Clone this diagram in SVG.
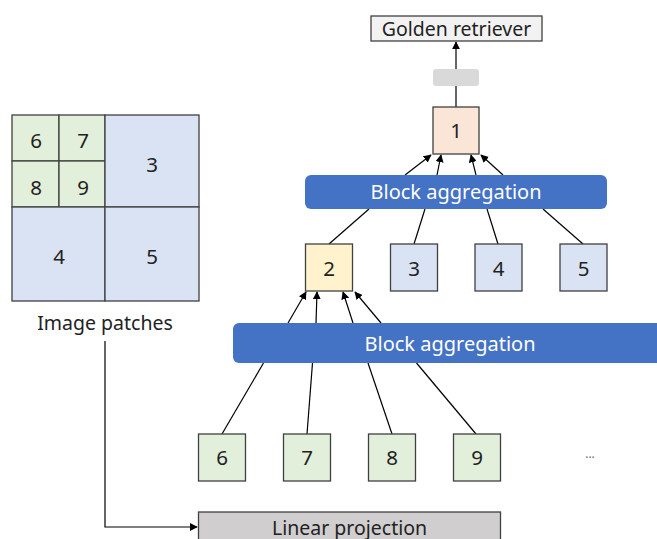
<svg xmlns="http://www.w3.org/2000/svg" width="657" height="539" viewBox="0 0 657 539">
  <defs>
    <marker id="arr" viewBox="0 0 10 10" refX="9" refY="5" markerWidth="8" markerHeight="8" markerUnits="userSpaceOnUse" orient="auto">
      <path d="M0,0 L10,5 L0,10 z" fill="#000"/>
    </marker>
    <style>
      .t { font-family: "Noto Sans", "Liberation Sans", sans-serif; fill: #222; text-anchor: middle; }
      .num { font-size: 20.5px; }
      .lab { font-size: 19.5px; }
      .blk { font-size: 20px; fill: #fff; }
      .box { stroke: #404040; stroke-width: 1.3; }
      .green { fill: #e2efda; }
      .blue { fill: #dae3f3; }
      .peach { fill: #fbe5d6; }
      .yellow { fill: #fff2cc; }
      .agg { fill: #4472c4; }
      .ln { stroke: #000; stroke-width: 1.2; fill: none; }
      .cell { stroke: #404040; stroke-width: 1.3; }
    </style>
  </defs>
  <rect width="657" height="539" fill="#fff"/>

  <!-- patch grid -->
  <g id="patches">
    <rect class="cell green" x="12" y="115" width="47" height="46"/>
    <rect class="cell green" x="59" y="115" width="46" height="46"/>
    <rect class="cell green" x="12" y="161" width="47" height="46"/>
    <rect class="cell green" x="59" y="161" width="46" height="46"/>
    <rect class="cell blue" x="105" y="115" width="94" height="92"/>
    <rect class="cell blue" x="12" y="207" width="93" height="94"/>
    <rect class="cell blue" x="105" y="207" width="94" height="94"/>
    <text class="t num" x="36" y="148">6</text>
    <text class="t num" x="83" y="148">7</text>
    <text class="t num" x="36" y="195">8</text>
    <text class="t num" x="83" y="195">9</text>
    <text class="t num" x="152" y="172">3</text>
    <text class="t num" x="59" y="264">4</text>
    <text class="t num" x="152" y="264">5</text>
    <text class="t lab" x="105" y="330">Image patches</text>
  </g>

  <!-- connectors -->
  <g id="connectors">
    <polyline class="ln" points="105,341 105,527 197,527" marker-end="url(#arr)"/>
    <line class="ln" x1="456" y1="107" x2="456" y2="42" marker-end="url(#arr)"/>
    <line class="ln" x1="405" y1="175" x2="431" y2="155" marker-end="url(#arr)"/>
    <line class="ln" x1="437" y1="175" x2="441" y2="155" marker-end="url(#arr)"/>
    <line class="ln" x1="476" y1="175" x2="471" y2="155" marker-end="url(#arr)"/>
    <line class="ln" x1="503" y1="175" x2="481" y2="155" marker-end="url(#arr)"/>
    <line class="ln" x1="369" y1="209" x2="329" y2="244"/>
    <line class="ln" x1="425" y1="209" x2="414" y2="244"/>
    <line class="ln" x1="487" y1="209" x2="498" y2="244"/>
    <line class="ln" x1="543" y1="209" x2="583" y2="244"/>
    <line class="ln" x1="288" y1="323" x2="306" y2="292" marker-end="url(#arr)"/>
    <line class="ln" x1="316" y1="323" x2="317" y2="292" marker-end="url(#arr)"/>
    <line class="ln" x1="353" y1="323" x2="343" y2="292" marker-end="url(#arr)"/>
    <line class="ln" x1="381" y1="323" x2="355" y2="292" marker-end="url(#arr)"/>
    <line class="ln" x1="263.5" y1="363" x2="222" y2="434"/>
    <line class="ln" x1="312.5" y1="363" x2="307" y2="434"/>
    <line class="ln" x1="368" y1="363" x2="392" y2="434"/>
    <line class="ln" x1="416.5" y1="363" x2="476" y2="434"/>
  </g>

  <g id="output">
    <rect x="371" y="16" width="171" height="25" fill="#f2f2f2" class="box"/>
    <text class="t lab" x="456.5" y="35.5">Golden retriever</text>
  </g>
  <g id="head">
    <rect x="433" y="69" width="46" height="17" rx="3" fill="#d9d9d9"/>
  </g>

  <g id="node1">
    <rect class="box peach" x="433" y="107" width="46" height="47"/>
    <text class="t num" x="456" y="138">1</text>
  </g>

  <g id="agg-top">
    <rect class="agg" x="305" y="175" width="302" height="34" rx="6"/>
    <text class="t blk" x="456" y="199">Block aggregation</text>
  </g>

  <g id="node2">
    <rect class="box yellow" x="305.5" y="244" width="47" height="47"/>
    <text class="t num" x="329" y="276">2</text>
  </g>
  <g id="node3">
    <rect class="box blue" x="390.5" y="244" width="47" height="47"/>
    <text class="t num" x="414" y="276">3</text>
  </g>
  <g id="node4">
    <rect class="box blue" x="475" y="244" width="47" height="47"/>
    <text class="t num" x="498.5" y="276">4</text>
  </g>
  <g id="node5">
    <rect class="box blue" x="560" y="244" width="47" height="47"/>
    <text class="t num" x="583.5" y="276">5</text>
  </g>

  <g id="agg-bottom">
    <rect class="agg" x="233" y="323" width="440" height="40" rx="6"/>
    <text class="t blk" x="450" y="351">Block aggregation</text>
  </g>

  <g id="node6">
    <rect class="box green" x="198.5" y="434" width="47" height="47"/>
    <text class="t num" x="222" y="465">6</text>
  </g>
  <g id="node7">
    <rect class="box green" x="283.5" y="434" width="47" height="47"/>
    <text class="t num" x="307" y="465">7</text>
  </g>
  <g id="node8">
    <rect class="box green" x="368.5" y="434" width="47" height="47"/>
    <text class="t num" x="392" y="465">8</text>
  </g>
  <g id="node9">
    <rect class="box green" x="453.5" y="434" width="47" height="47"/>
    <text class="t num" x="477" y="465">9</text>
  </g>
  <g id="ellipsis">
    <text class="t" x="590" y="458" style="font-size:12px;fill:#666">...</text>
  </g>

  <g id="projection">
    <rect class="box" x="198.5" y="512" width="302" height="40" fill="#d0cece"/>
    <text class="t lab" x="349.5" y="535">Linear projection</text>
  </g>
</svg>
